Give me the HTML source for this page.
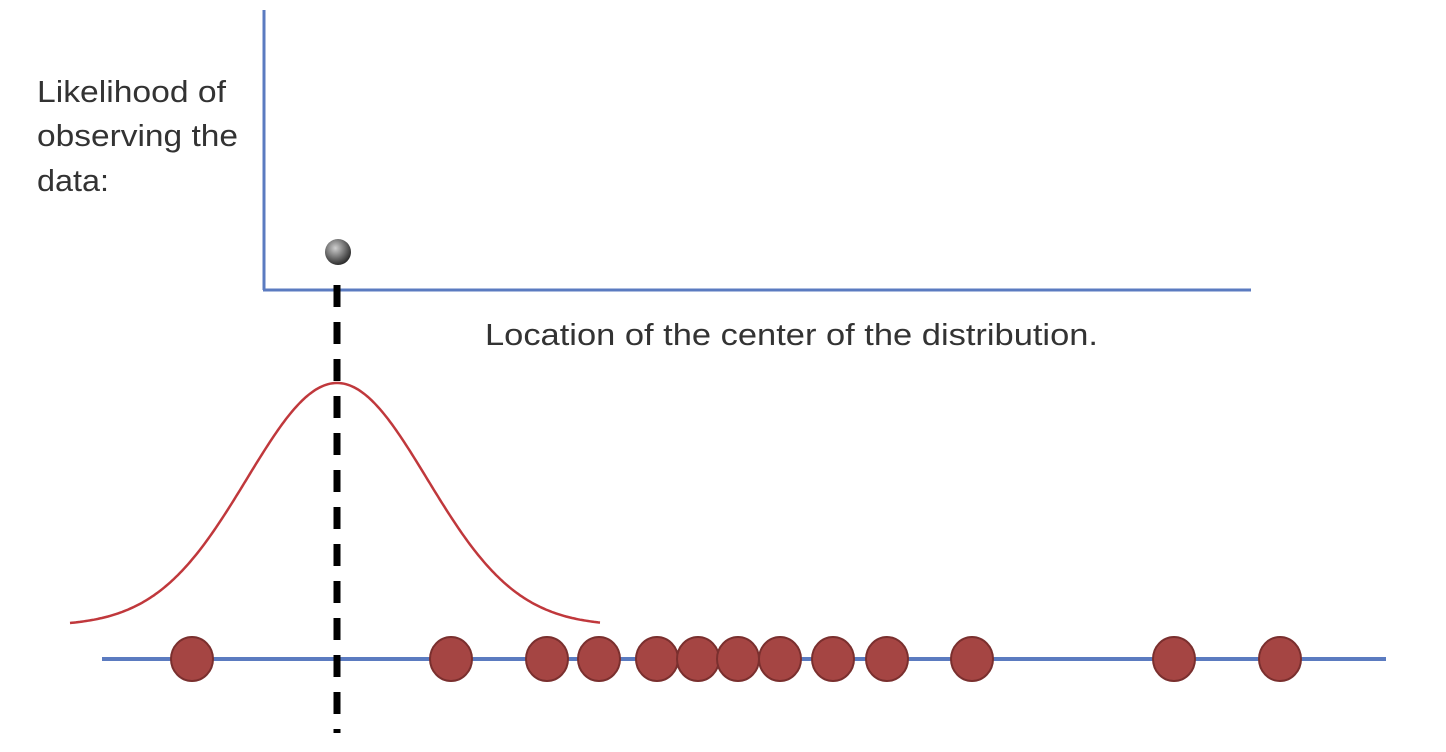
<!DOCTYPE html>
<html><head><meta charset="utf-8"><style>
html,body{margin:0;padding:0;background:#fff;}
svg{display:block;}
text{font-family:"Liberation Sans",sans-serif;fill:#333;}
</style></head><body>
<svg width="1446" height="752" viewBox="0 0 1446 752">
<defs>
<radialGradient id="ballg" cx="0.4" cy="0.35" r="0.7">
<stop offset="0" stop-color="#cfcfcf"/><stop offset="0.6" stop-color="#666"/><stop offset="1" stop-color="#222"/>
</radialGradient>
</defs>
<g>
<text x="37" y="102" font-size="31" textLength="189" lengthAdjust="spacingAndGlyphs">Likelihood of</text>
<text x="37" y="146" font-size="31" textLength="201" lengthAdjust="spacingAndGlyphs">observing the</text>
<text x="37" y="191" font-size="31" textLength="72" lengthAdjust="spacingAndGlyphs">data:</text>
</g>
<line x1="264" y1="10" x2="264" y2="290" stroke="#5b7bc0" stroke-width="3"/>
<line x1="263" y1="290" x2="1251" y2="290" stroke="#5b7bc0" stroke-width="3"/>
<text x="485" y="345" font-size="31" textLength="613" lengthAdjust="spacingAndGlyphs">Location of the center of the distribution.</text>
<line x1="102" y1="659" x2="1386" y2="659" stroke="#5b7bc0" stroke-width="4"/>
<g id="dots"></g>
<path id="curve" fill="none" stroke="#c0383c" stroke-width="2.5"/>
<line id="center" y1="285" y2="733" stroke="#000" stroke-width="7" stroke-dasharray="22 15"/>
<circle id="ball" r="13" fill="url(#ballg)"/>
</svg>
<script>
const dataX = [192, 451, 547, 599, 657, 698, 738, 780, 833, 887, 972, 1174, 1280];
const centerX = [337];
const likelihood = [252];
const sigma = [90];
const ns='http://www.w3.org/2000/svg';
const g=document.getElementById('dots');
dataX.forEach(x=>{
  const e=document.createElementNS(ns,'ellipse');
  
  
  e.setAttribute('cx',x);e.setAttribute('cy',659);e.setAttribute('rx',21);e.setAttribute('ry',22);
  e.setAttribute('fill','#a54543');e.setAttribute('stroke','#7a2f2e');e.setAttribute('stroke-width','2');
  g.appendChild(e);
});
const c=centerX[0], s=sigma[0], peak=383, base=626;
let d='';
for(let x=70;x<=600;x+=2){
  const y=base-(base-peak)*Math.exp(-((x-c)*(x-c))/(2*s*s));
  d+=(x===70?'M':'L')+x+' '+y.toFixed(1)+' ';
}
document.getElementById('curve').setAttribute('d',d);
const ln=document.getElementById('center');
ln.setAttribute('x1',c);ln.setAttribute('x2',c);
const b=document.getElementById('ball');
b.setAttribute('cx',c+1);b.setAttribute('cy',likelihood[0]);
</script>
</body></html>
